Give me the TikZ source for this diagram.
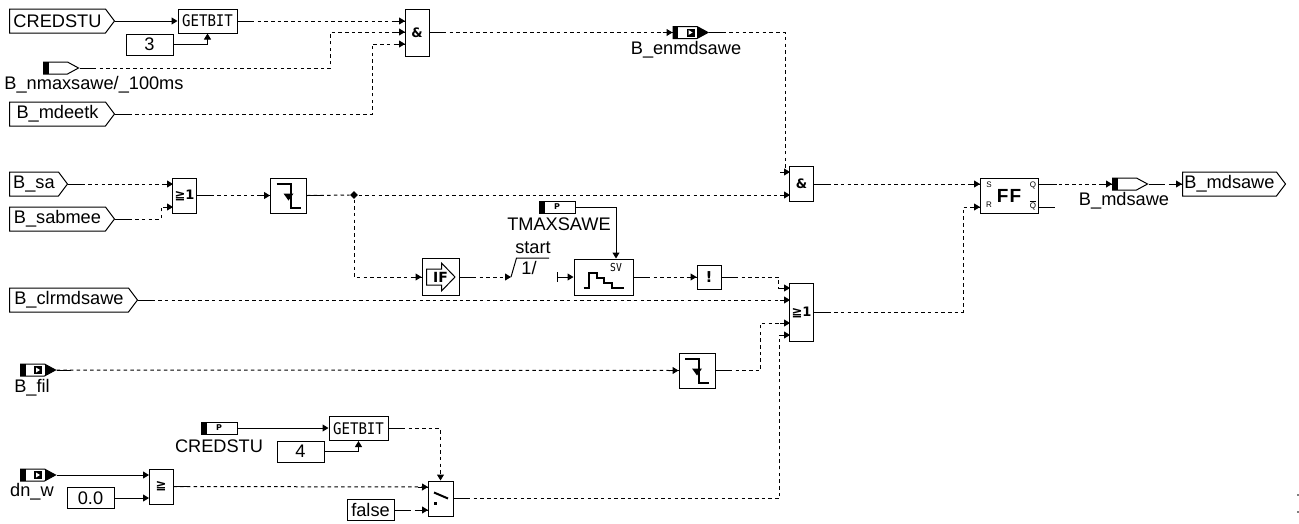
\documentclass[tikz,border=0pt]{standalone}
\usepackage{fontspec}
\setmainfont{Liberation Sans}
\newfontfamily\bitfont[FakeStretch=0.88]{DejaVu Sans Mono}
\newfontfamily\gatefont{DejaVu Sans}
\usetikzlibrary{calc,positioning,shapes.geometric,shapes.symbols,arrows.meta}
\newcommand{\ppbb}{path picture bounding box}
\begin{document}
\begin{tikzpicture}[x=1pt, y=-1pt, >={Stealth[inset=0pt,length=6pt,width=7pt]}, line width=1pt,
  font=\fontsize{18.2}{20}\selectfont,
  gate/.style={draw, fill=white, inner sep=0pt, minimum width=24pt, minimum height=35pt, align=center,
    font=\gatefont\bfseries\fontsize{13}{14}\selectfont},
  fallbox/.style={gate, minimum width=36pt},
  bitbox/.style={gate, minimum width=59pt, minimum height=24pt, font=\bitfont\fontsize{16}{16}\selectfont},
  const/.style={draw, fill=white, inner sep=0pt, minimum width=47pt, minimum height=21pt},
  inport/.style={draw, fill=white, shape=signal, signal to=east, signal pointer angle=106, inner sep=0pt,
    minimum height=24pt, anchor=west},
  msg/.style={draw, fill=white, shape=signal, signal to=east, signal pointer angle=57, inner sep=0pt,
    minimum width=35pt, minimum height=12pt,
    path picture={\fill[black] (\ppbb.south west) rectangle ++(5pt,12pt);}},
  msgdark/.style={msg, path picture={
    \fill[black] (\ppbb.south west) rectangle ++(5pt,12pt);
    \fill[black] (\ppbb.south east) rectangle ++(-11pt,12pt);
    \fill[black] (\ppbb.center) ++(-4pt,-4pt) rectangle ++(8pt,8pt);
    \fill[white] (\ppbb.center) ++(-2pt,-2.5pt) -- ++(4pt,2.5pt) -- ++(-4pt,2.5pt) -- cycle;}},
  param/.style={draw, fill=white, inner sep=0pt, minimum width=36pt, minimum height=12pt,
    font=\gatefont\bfseries\fontsize{8}{8}\selectfont,
    path picture={\fill[black] (\ppbb.south west) rectangle ++(6pt,12pt);}},
  pin/.style={inner sep=0pt, font=\fontsize{8}{8}\selectfont},
  sig/.style={dash pattern=on 3.5pt off 3.2pt},
  icon/.style={line width=2pt}]
\useasboundingbox (0,0) rectangle (1299,523);

% inputs
\node[inport, minimum width=105pt] (credstu) at (9,21) {CREDSTU};
\node[inport, minimum width=105pt] (mdeetk) at (9,114) {B\_mdeetk};
\node[inport, minimum width=58pt] (sa) at (9,184) {B\_sa};
\node[inport, minimum width=105pt] (sabmee) at (9,219) {B\_sabmee};
\node[inport, minimum width=128pt] (clrmd) at (9,300) {B\_clrmdsawe};
\node[inport, minimum width=103pt] (mdout) at (1182,184) {B\_mdsawe};

% messages
\node[msg] (nmax) at (55.5,68) {};
\node[anchor=center] (nmaxtag) at (94,85) {B\_nmaxsawe/\_100ms};
\node[msgdark] (enmd) at (685,32.5) {};
\node (enmdtag) at (686,50) {B\_enmdsawe};
\node[msgdark] (fil) at (32.5,370) {};
\node (filtag) at (32,388) {B\_fil};
\node[msgdark] (dnw) at (32.5,475) {};
\node (dnwtag) at (32,492) {dn\_w};
\node[msg] (mdsawe) at (1124.5,184) {};
\node (mdsawetag) at (1124,201) {B\_mdsawe};
\node[param] (tmax) at (557,207) {P};
\node (tmaxtag) at (559,224) {TMAXSAWE};
\node[param] (credp) at (219,428) {P};
\node (credtag) at (219,446) {CREDSTU};

% gates
\node[bitbox] (bitA) at (207.5,21) {GETBIT};
\node[const] (three) at (149.5,44.5) {3};
\node[gate, minimum height=47pt] (andA) at (417,32.5) {\&};
\node[gate] (orA) at (184.5,195.5) {≧1};
\node[fallbox] (fallA) at (288.5,195.5) {};
\node[diamond, fill, inner sep=0pt, minimum size=8pt] (jn) at (354,195) {};
\node[gate, minimum height=35pt] (andB) at (801.5,184) {\&};
\node[fallbox, minimum width=37pt, minimum height=37pt, font=\gatefont\bfseries\fontsize{14}{14}\selectfont,
  path picture={\draw[black, fill=white] (\ppbb.center) ++(-14pt,-8pt) -- ++(15pt,0pt) -- ++(0pt,-6pt)
    -- ++(13.5pt,14pt) -- ++(-13.5pt,14pt) -- ++(0pt,-6pt) -- ++(-15pt,0pt) -- cycle;}] (iffn) at (440.5,277) {IF};
\node[gate, minimum width=59pt, minimum height=36pt] (sv) at (603.5,277) {};
\node[pin, font=\bitfont\fontsize{11}{11}\selectfont] (svtag) at (616,267) {SV};
\node[gate, minimum height=24pt, font=\gatefont\bfseries\fontsize{15}{15}\selectfont] (notg) at (709,277) {!};
\node[gate, minimum height=58pt] (orB) at (801.5,312) {≧1};
\node[fallbox] (fallB) at (697,370.5) {};
\node[gate, minimum width=58pt, font=\fontsize{19}{19}\selectfont\bfseries] (ff) at (1009,195.5) {F\kern1pt F};
\node[pin] (pins) at (989,185) {S};
\node[pin] (pinr) at (989,205) {R};
\node[pin] (pinq) at (1033,185) {Q};
\node[pin] (pinqb) at (1033,205) {$\overline{\mbox{Q}}$};
\node[bitbox] (bitB) at (358.5,428.5) {GETBIT};
\node[const] (four) at (300.5,451.5) {4};
\node[const] (zero) at (90.5,498) {0.0};
\node[const] (falsec) at (370.5,510) {false};
\node[gate] (cmp) at (161,486.5) {≧};
\node[gate, minimum width=25pt] (swit) at (440.5,498.5) {};
\node (startlab) at (533,248) {start};
\node (onelab) at (529,268) {1/};

% ports
\coordinate (andA1) at (405,21);
\coordinate (andA2) at (405,32);
\coordinate (andA3) at (405,44);
\coordinate (andB1) at (790,172);
\coordinate (andB2) at (790,195);
\coordinate (orA1) at (173,184);
\coordinate (orA2) at (173,207);
\coordinate (orB1) at (790,288);
\coordinate (orB2) at (790,300);
\coordinate (orB3) at (790,323);
\coordinate (orB4) at (790,335);
\coordinate (ffS) at (980,184);
\coordinate (ffR) at (980,207);
\coordinate (cmpA) at (149,475);
\coordinate (cmpB) at (149,498);
\coordinate (swA) at (428,487);
\coordinate (swB) at (428,510);
\coordinate (stepin) at (511,277);
\coordinate (stepout) at (557,277);
\coordinate (qbarA) at (1038,207);
\coordinate (qbarB) at (1055,207);

% solid wires
\draw[->] (credstu.east) -- (bitA.west);
\draw[->] (three.east) -| (bitA.south);
\draw[->] (tmax.east) -| (sv.north -| svtag);
\draw[->] (credp.east) -- (credp.east -| bitB.west);
\draw[->] (four.east) -| (bitB.south);
\draw[->] (dnw.east) -- (cmpA);
\draw[->] (zero.east) -- (cmpB);
\draw[->] (stepout) -- (sv.west);
\draw (qbarA) -- (qbarB);

% dashed wires
\draw[sig, ->] (bitA.east) -- (andA1);
\draw[sig, ->] (nmax.east) -- ++(251,0) |- (andA2);
\draw[sig, ->] (mdeetk.east) -- ++(257,0) |- (andA3);
\draw[sig, ->] (andA.east) -- (enmd.west);
\draw[sig, ->] (enmd.east) -- ++(76,0) |- (andB1);
\draw[sig, ->] (sa.east) -- (orA1);
\draw[sig, ->] (sabmee.east) -- ++(46,0) |- (orA2);
\draw[sig, ->] (orA.east) -- (fallA.west);
\draw[sig] (fallA.east) -- (jn);
\draw[sig, ->] (jn) -- (andB2);
\draw[sig, ->] (jn) |- (iffn.west);
\draw[sig, ->] (iffn.east) -- (stepin);
\draw[sig, ->] (sv.east) -- (notg.west);
\draw[sig, ->] (notg.east) -- ++(57,0) |- (orB1);
\draw[sig, ->] (clrmd.east) -- (orB2);
\draw[sig, ->] (fil.east) -- (fallB.west);
\draw[sig, ->] (fallB.east) -- ++(45,0) |- (orB3);
\draw[sig, ->] (swit.east) -- ++(326,0) |- (orB4);
\draw[sig, ->] (andB.east) -- (ffS);
\draw[sig, ->] (orB.east) -- ++(149,0) |- (ffR);
\draw[sig, ->] (ff.east |- ffS) -- (mdsawe.west);
\draw[sig, ->] (mdsawe.east) -- (mdout.west);
\draw[sig, ->] (cmp.east) -- (swA);
\draw[sig, ->] (falsec.east) -- (swB);
\draw[sig, ->] (bitB.east) -| (swit.north);

% solid ends of the dashed wires
\foreach \p in {bitA,nmax,mdeetk,andA,enmd,sa,sabmee,orA,fallA,iffn,sv,notg,clrmd,fil,fallB,swit,andB,orB,mdsawe,cmp,falsec,bitB}
  \draw (\p.east) -- ++(14,0);
\draw (ff.east |- ffS) -- ++(18,0);
\foreach \p in {andA1,andA2,andA3,andB1,andB2,orA1,orA2,orB1,orB2,orB3,orB4,ffS,ffR,swA,swB}
  \draw ($(\p)+(-10,0)$) -- (\p);
\foreach \p in {enmd,fallA,fallB,iffn,notg,mdsawe,mdout}
  \draw ($(\p.west)+(-10,0)$) -- (\p.west);

% step
\draw (stepin) -- ++(5.5,-19) -- ++(32.5,0);
\draw ($(stepout)+(0,-5)$) -- ($(stepout)+(0,5)$);

% icons
\foreach \b in {fallA,fallB} {
  \draw[icon] ($(\b.center)+(-12,-12)$) -- ++(14,0) -- ++(0,24) -- ++(10,0);
  \fill ($(\b.center)+(-5,-2)$) -- ++(10,0) -- ++(-5,7) -- cycle;
}
\draw[icon] ($(sv.center)+(-20,11)$) -- ++(5,0) -- ++(0,-15) -- ++(8,0) -- ++(0,5) -- ++(7,0) -- ++(0,5) -- ++(8,0) -- ++(0,5) -- ++(12,0);
\draw[icon] ($(swit.center)+(-6.5,-6)$) -- ++(14,6);
\fill ($(swit.center)+(-7,3.5)$) rectangle ++(3,3);

% marks at the edge
\fill[gray] (1297,494) rectangle ++(2,2);
\fill[gray] (1297,511) rectangle ++(2,2);
\end{tikzpicture}
\end{document}
